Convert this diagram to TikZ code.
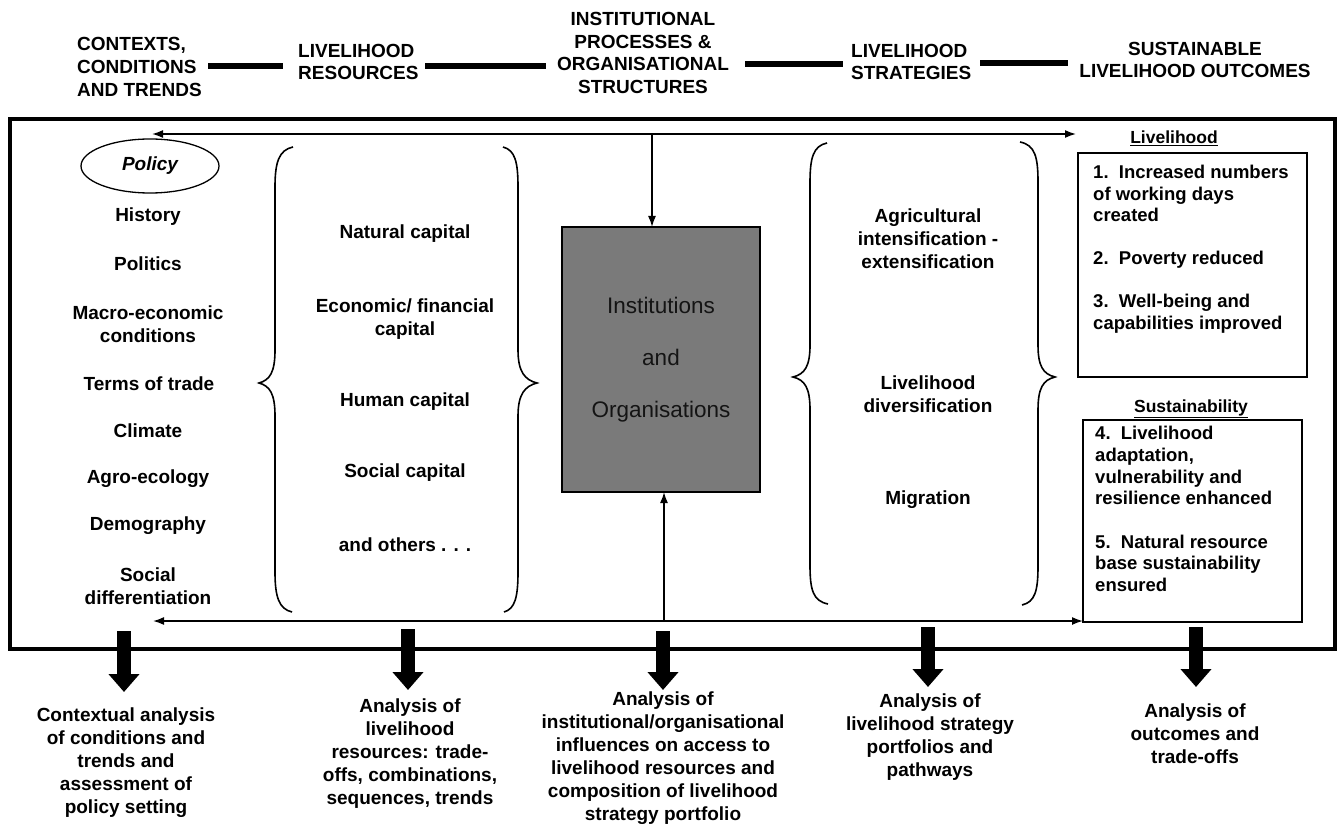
\documentclass[tikz,border=0pt]{standalone}
\usepackage{fontspec}
\setmainfont{Liberation Sans}
\usetikzlibrary{arrows.meta,shapes.geometric,calc}
\definecolor{boxgray}{RGB}{122,122,122}
\definecolor{inktext}{RGB}{20,20,20}
\begin{document}
\begin{tikzpicture}[x=1pt,y=-1pt,
  txt/.style={font=\fontsize{19}{23}\selectfont\bfseries, inner sep=0pt, align=center},
  hdr/.style={font=\fontsize{19}{22.7}\selectfont\bfseries, inner sep=0pt},
  boxtxt/.style={font=\fontsize{18.5}{21.5}\selectfont\bfseries, inner sep=0pt, align=left, anchor=north west},
  lbl/.style={font=\fontsize{17.5}{21}\selectfont\bfseries, inner sep=0pt},
  hbar/.style={line width=6pt},
  arr/.style={line width=1.6pt, -{Latex[length=11pt,width=8pt]}},
  biarr/.style={line width=1.6pt, {Latex[length=11pt,width=8pt]}-{Latex[length=11pt,width=8pt]}},
  brc/.style={line width=1.6pt},
  fat/.style={line width=14pt, -{Triangle[length=18pt,width=30pt]}},
  outbox/.style={draw, line width=1.3pt, inner sep=0pt, outer sep=0pt, anchor=north west}
]
\useasboundingbox (0,0) rectangle (1343,834);
\fill[white] (0,0) rectangle (1343,834);

% ---------- header ----------
\node[hdr, align=left, anchor=west] (h1) at (77,67) {CONTEXTS,\\CONDITIONS\\AND TRENDS};
\node[hdr, align=left, anchor=west] (h2) at (298,62) {LIVELIHOOD\\RESOURCES};
\node[hdr, align=center] (h3) at (643,53) {INSTITUTIONAL\\PROCESSES \&\\ORGANISATIONAL\\STRUCTURES};
\node[hdr, align=left, anchor=west] (h4) at (851,62) {LIVELIHOOD\\STRATEGIES};
\node[hdr, align=center] (h5) at (1195,60) {SUSTAINABLE\\LIVELIHOOD OUTCOMES};
\coordinate (b1a) at (208,66); \coordinate (b1b) at (283,66);
\coordinate (b2a) at (425,66); \coordinate (b2b) at (546,66);
\coordinate (b3a) at (745,64); \coordinate (b3b) at (843,64);
\coordinate (b4a) at (980,63); \coordinate (b4b) at (1068,63);
\draw[hbar] (b1a) -- (b1b);
\draw[hbar] (b2a) -- (b2b);
\draw[hbar] (b3a) -- (b3b);
\draw[hbar] (b4a) -- (b4b);

% ---------- outer frame ----------
\node[draw, line width=3.5pt, inner sep=0pt, outer sep=0pt, anchor=north west,
      minimum width=1325pt, minimum height=530pt] (frame) at (10,119) {};

% ---------- contexts column ----------
\node[ellipse, draw, line width=1.3pt, minimum width=138pt, minimum height=54pt, inner sep=0pt,
      font=\fontsize{19}{23}\selectfont\bfseries\itshape] (policy) at (150,166) {Policy};
\node[txt] (history) at (148,217) {History};
\node[txt] (politics) at (148,264) {Politics};
\node[txt] (macro) at (148,324) {Macro-economic\\conditions};
\node[txt] (terms) at (149,384) {Terms of trade};
\node[txt] (climate) at (148,431) {Climate};
\node[txt] (agro) at (148,479) {Agro-ecology};
\node[txt] (demo) at (148,526) {Demography};
\node[txt] (social) at (148,586) {Social\\differentiation};

% ---------- resources ----------
\draw[brc] (293,147) .. controls (279,150) and (275,162) .. (275,187) -- (275,350)
  .. controls (275,372) and (270,380) .. (259,383) .. controls (270,386) and (275,394) .. (275,416)
  -- (275,572) .. controls (275,597) and (279,609) .. (292,612);
\draw[brc] (503,147) .. controls (515,150) and (518,162) .. (518,187) -- (518,350)
  .. controls (518,372) and (525,380) .. (537,383) .. controls (525,386) and (518,394) .. (518,416)
  -- (518,572) .. controls (518,597) and (515,609) .. (504,612);
\node[txt] (natural) at (405,234) {Natural capital};
\node[txt] (econ) at (405,319) {Economic/ financial\\capital};
\node[txt] (human) at (405,402) {Human capital};
\node[txt] (socialcap) at (405,473) {Social capital};
\node[txt] (others) at (405,545) {and others . . .};

% ---------- institutions ----------
\node[draw, fill=boxgray, line width=1.2pt, inner sep=0pt, outer sep=0pt, anchor=north west,
      minimum width=198pt, minimum height=265pt, align=center, text=inktext,
      font=\fontsize{22.5}{52}\selectfont] (inst) at (562,227) {Institutions\\and\\Organisations};

% ---------- strategies ----------
\draw[brc] (827,143) .. controls (813,146) and (810,158) .. (810,183) -- (810,345)
  .. controls (810,366) and (805,374) .. (793,377) .. controls (805,380) and (810,388) .. (810,410)
  -- (810,565) .. controls (810,590) and (813,601) .. (828,604);
\draw[brc] (1020,142) .. controls (1035,145) and (1038,157) .. (1038,182) -- (1038,345)
  .. controls (1038,366) and (1043,374) .. (1055,377) .. controls (1043,380) and (1038,388) .. (1038,410)
  -- (1038,566) .. controls (1038,591) and (1035,602) .. (1022,605);
\node[txt] (agri) at (928,239) {Agricultural\\intensification -\\extensification};
\node[txt] (divers) at (928,394) {Livelihood\\diversification};
\node[txt] (migr) at (928,500) {Migration};

% ---------- outcomes ----------
\node[lbl] (livlbl) at (1174,138) {\underline{Livelihood}};
\node[outbox, minimum width=229pt, minimum height=224pt] (lbox) at (1078,153) {};
\node[boxtxt] (ltext) at (1093,165) {1.\ \ Increased numbers\\of working days\\created\\[21.5pt]2.\ \ Poverty reduced\\[21.5pt]3.\ \ Well-being and\\capabilities improved};
\node[lbl] (suslbl) at (1191,409) {\underline{Sustainability}};
\node[outbox, minimum width=219pt, minimum height=202pt] (sbox) at (1083,420) {};
\node[boxtxt, font=\fontsize{18.5}{21.7}\selectfont\bfseries] (stext) at (1095,426) {4.\ \ Livelihood\\adaptation,\\vulnerability and\\resilience enhanced\\[21.7pt]5.\ \ Natural resource\\base sustainability\\ensured};

% ---------- thin arrows ----------
\coordinate (tl) at (152,134);
\coordinate (tr) at (1076,134);
\coordinate (tj) at (652,134);
\draw[biarr] (tl) -- (tr);
\draw[arr] (tj) -- (inst.north -| tj);
\coordinate (bj) at (664,621);
\coordinate (bl) at (153,621);
\draw[arr] (bj) -- (bl);
\draw[arr] (bj) -- (sbox.west |- bj);
\draw[arr] (bj) -- (inst.south -| bj);

% ---------- bottom analyses ----------
\coordinate (f1a) at (124,631); \coordinate (f1b) at (124,692);
\coordinate (f2a) at (408,629); \coordinate (f2b) at (408,690);
\coordinate (f3a) at (663,631); \coordinate (f3b) at (663,690);
\coordinate (f4a) at (928,627); \coordinate (f4b) at (928,687);
\coordinate (f5a) at (1196,627); \coordinate (f5b) at (1196,687);
\draw[fat] (f1a) -- (f1b);
\draw[fat] (f2a) -- (f2b);
\draw[fat] (f3a) -- (f3b);
\draw[fat] (f4a) -- (f4b);
\draw[fat] (f5a) -- (f5b);
\node[txt] (a1) at (126,763) {Contextual analysis\\of conditions and\\trends and\\assessment of\\policy setting};
\node[txt] (a2) at (410,754) {Analysis of\\livelihood\\resources: trade-\\offs, combinations,\\sequences, trends};
\node[txt] (a3) at (663,758) {Analysis of\\institutional/organisational\\influences on access to\\livelihood resources and\\composition of livelihood\\strategy portfolio};
\node[txt] (a4) at (930,737) {Analysis of\\livelihood strategy\\portfolios and\\pathways};
\node[txt] (a5) at (1195,734) {Analysis of\\outcomes and\\trade-offs};
\end{tikzpicture}
\end{document}
